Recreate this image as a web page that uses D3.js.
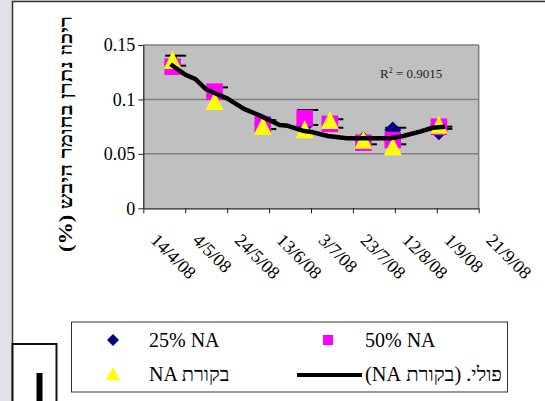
<!DOCTYPE html>
<html>
<head>
<meta charset="utf-8">
<script src="https://cdn.jsdelivr.net/npm/d3@7"></script>
<style>
  body { margin: 0; background: #e4dfe9; }
  svg { display: block; }
</style>
</head>
<body>
<div id="chart"></div>
<script>
// sampling dates (one per measurement)
const sampleDates = ['2008-04-28', '2008-05-18', '2008-06-10', '2008-06-30', '2008-07-12', '2008-07-28', '2008-08-11', '2008-09-02']

// series values
const na25 = [0.132, 0.103, 0.078, 0.076, 0.079, 0.063, 0.0719, 0.0704]
const na50 = [0.130, 0.1071, 0.077, 0.0827, 0.0776, 0.0603, 0.0627, 0.0749]
const control = [0.1358, 0.0981, 0.0753, 0.0722, 0.0807, 0.0626, 0.0566, 0.0763]

// error bar ends
const errHigh = [0.1402, 0.1111, 0.081, 0.0903, 0.0818, 0.064, 0.074, 0.075]
const errLow = [0.131, 0.101, 0.0728, 0.0765, 0.074, 0.0588, 0.0588, 0.073]

// polynomial trendline of control
const trendDates = ['2008-04-27', '2008-05-04', '2008-05-09', '2008-05-14', '2008-05-19', '2008-05-24', '2008-06-01', '2008-06-09', '2008-06-18', '2008-06-22', '2008-06-29', '2008-07-04', '2008-07-11', '2008-07-20', '2008-07-31', '2008-08-10', '2008-08-16', '2008-08-24', '2008-08-30', '2008-09-05']
const trendValues = [0.1323, 0.1228, 0.1185, 0.1093, 0.105, 0.101, 0.0913, 0.0849, 0.0766, 0.0758, 0.0713, 0.0698, 0.0664, 0.0643, 0.0643, 0.0643, 0.0664, 0.0704, 0.074, 0.075]

// axes
const xTickDates = ['2008-04-14', '2008-05-04', '2008-05-24', '2008-06-13', '2008-07-03', '2008-07-23', '2008-08-12', '2008-09-01', '2008-09-21']
const xTickLabels = ['14/4/08', '4/5/08', '24/5/08', '13/6/08', '3/7/08', '23/7/08', '12/8/08', '1/9/08', '21/9/08']
const yTicks = [0, 0.05, 0.1, 0.15]

const legendNames = ['25% NA', '50% NA', 'NA בקורת', 'פולי. (בקורת NA)']
const yTitle = 'ריכוז נתרן בחומר היבש (%)'
const rSquared = '0.9015'

const W = 545
const H = 401
const plot = { left: 143.3, right: 478.7, top: 45, bottom: 208.3 }
const serif = '"Liberation Serif", "Times New Roman", "DejaVu Serif", serif'

const parseDate = d3.timeParse('%Y-%m-%d')

const svg = d3
  .select('#chart')
  .append('svg')
  .attr('width', W)
  .attr('height', H)

// page background + chart frame
svg.append('rect').attr('width', W).attr('height', H).attr('fill', '#e4dfe9')
svg
  .append('rect')
  .attr('x', 12.5)
  .attr('y', 1.5)
  .attr('width', 600)
  .attr('height', 500)
  .attr('fill', '#fff')
  .attr('stroke', '#333')
  .attr('stroke-width', 1.5)

/// Scales////////////////////////////////
const xScale = d3
  .scaleTime()
  .domain([parseDate(xTickDates[0]), parseDate(xTickDates[xTickDates.length - 1])])
  .range([plot.left, plot.right])
const yScale = d3.scaleLinear().domain([0, 0.15]).range([plot.bottom, plot.top])

// plot area
svg
  .append('rect')
  .attr('x', plot.left)
  .attr('y', plot.top)
  .attr('width', plot.right - plot.left)
  .attr('height', plot.bottom - plot.top)
  .attr('fill', '#c0c0c0')

// gridlines
svg
  .append('g')
  .selectAll('line')
  .data(yTicks.filter(d => d > 0))
  .enter()
  .append('line')
  .attr('x1', plot.left)
  .attr('x2', plot.right)
  .attr('y1', d => yScale(d))
  .attr('y2', d => yScale(d))
  .attr('stroke', '#808080')
  .attr('stroke-width', 1.5)

svg
  .append('line')
  .attr('x1', plot.right)
  .attr('x2', plot.right)
  .attr('y1', plot.top)
  .attr('y2', plot.bottom)
  .attr('stroke', '#808080')
  .attr('stroke-width', 1.5)

// axes
const yAxis = svg
  .append('g')
  .attr('transform', 'translate(' + plot.left + ',0)')
  .call(
    d3
      .axisLeft(yScale)
      .tickValues(yTicks)
      .tickFormat(d => String(d))
      .tickSizeInner(5)
      .tickSizeOuter(0)
      .tickPadding(3)
  )
yAxis.select('.domain').attr('stroke', '#222').attr('stroke-width', 1.2)
yAxis.selectAll('.tick line').attr('stroke', '#222')
yAxis
  .selectAll('text')
  .attr('font-family', serif)
  .attr('font-size', 18)
  .attr('fill', '#000')

const xAxis = svg
  .append('g')
  .attr('transform', 'translate(0,' + plot.bottom + ')')
  .call(
    d3
      .axisBottom(xScale)
      .tickValues(xTickDates.map(parseDate))
      .tickFormat((d, i) => xTickLabels[i])
      .tickSizeInner(5)
      .tickSizeOuter(0)
  )
xAxis.select('.domain').attr('stroke', '#222').attr('stroke-width', 1.2)
xAxis.selectAll('.tick line').attr('stroke', '#222')
xAxis
  .selectAll('text')
  .attr('font-family', serif)
  .attr('font-size', 18)
  .attr('fill', '#000')
  .attr('text-anchor', 'start')
  .attr('y', 0)
  .attr('dy', 0)
  .attr('transform', 'translate(6,33) rotate(45)')

/// markers////////////////////////////////
const diamond = 'M0,-8.5L8.5,0L0,8.5L-8.5,0Z'
const square = 'M-8.3,-8.3H8.3V8.3H-8.3Z'
const triangle = 'M0,-9.5L9,8.5H-9Z'

const points = sampleDates.map((d, i) => ({
  date: parseDate(d),
  na25: na25[i],
  na50: na50[i],
  control: control[i],
  hi: errHigh[i],
  lo: errLow[i]
}))

// error bars
const errG = svg.append('g').attr('stroke', '#000').attr('stroke-width', 2)
points.forEach(p => {
  const cx = xScale(p.date) + 3
  errG.append('line').attr('x1', cx).attr('x2', cx).attr('y1', yScale(p.hi)).attr('y2', yScale(p.lo))
  errG.append('line').attr('x1', cx - 10.5).attr('x2', cx + 10.5).attr('y1', yScale(p.hi)).attr('y2', yScale(p.hi))
  errG.append('line').attr('x1', cx - 10.5).attr('x2', cx + 10.5).attr('y1', yScale(p.lo)).attr('y2', yScale(p.lo))
})

const seriesDefs = [
  { key: 'na25', path: diamond, color: '#000080' },
  { key: 'na50', path: square, color: '#ff00ff' },
  { key: 'control', path: triangle, color: '#ffff00' }
]

seriesDefs.forEach(s => {
  svg
    .append('g')
    .selectAll('path')
    .data(points)
    .enter()
    .append('path')
    .attr('d', s.path)
    .attr('transform', d => 'translate(' + xScale(d.date) + ',' + yScale(d[s.key]) + ')')
    .attr('fill', s.color)
})

// trendline
const trend = trendDates.map((d, i) => ({ date: parseDate(d), value: trendValues[i] }))
svg
  .append('path')
  .datum(trend)
  .attr(
    'd',
    d3
      .line()
      .x(d => xScale(d.date))
      .y(d => yScale(d.value))
  )
  .attr('fill', 'none')
  .attr('stroke', '#000')
  .attr('stroke-width', 4.5)
  .attr('stroke-linejoin', 'round')

// R squared label
const rText = svg
  .append('text')
  .attr('x', 380)
  .attr('y', 78)
  .attr('font-family', serif)
  .attr('font-size', 13)
  .attr('fill', '#222')
rText.append('tspan').text('R')
rText.append('tspan').attr('font-size', 8).attr('dy', -5).text('2')
rText.append('tspan').attr('dy', 5).text(' = ' + rSquared)

// y title
svg
  .append('text')
  .attr('transform', 'translate(72,134) rotate(-90)')
  .attr('direction', 'rtl')
  .attr('text-anchor', 'middle')
  .attr('font-family', serif)
  .attr('font-weight', 'bold')
  .attr('font-size', 18)
  .attr('textLength', 236)
  .attr('lengthAdjust', 'spacingAndGlyphs')
  .text(yTitle)

/// legend////////////////////////////////
svg
  .append('rect')
  .attr('x', 71.5)
  .attr('y', 322)
  .attr('width', 436)
  .attr('height', 70)
  .attr('fill', '#fff')
  .attr('stroke', '#333')
  .attr('stroke-width', 1)

const leg = svg.append('g').attr('font-family', serif).attr('font-size', 20)

leg.append('path').attr('d', 'M0,-6L6,0L0,6L-6,0Z').attr('transform', 'translate(113,340)').attr('fill', '#000080')
leg.append('text').attr('x', 149).attr('y', 347).text(legendNames[0])

leg.append('path').attr('d', 'M-5,-5H5V5H-5Z').attr('transform', 'translate(328,340)').attr('fill', '#ff00ff')
leg.append('text').attr('x', 365).attr('y', 347).text(legendNames[1])

leg.append('path').attr('d', 'M0,-7L7,6H-7Z').attr('transform', 'translate(113,374)').attr('fill', '#ffff00')
leg.append('text').attr('x', 149).attr('y', 381).text(legendNames[2])

leg
  .append('line')
  .attr('x1', 297)
  .attr('x2', 362)
  .attr('y1', 375)
  .attr('y2', 375)
  .attr('stroke', '#000')
  .attr('stroke-width', 4)
leg
  .append('text')
  .attr('x', 502)
  .attr('y', 381)
  .attr('direction', 'rtl')
  .attr('text-anchor', 'start')
  .attr('textLength', 137)
  .attr('lengthAdjust', 'spacingAndGlyphs')
  .text(legendNames[3])

// the edge of a second frame showing at lower left
svg
  .append('rect')
  .attr('x', 12.5)
  .attr('y', 344)
  .attr('width', 44)
  .attr('height', 80)
  .attr('fill', '#fff')
  .attr('stroke', '#111')
  .attr('stroke-width', 2)
svg
  .append('rect')
  .attr('x', 36.5)
  .attr('y', 373)
  .attr('width', 6)
  .attr('height', 40)
  .attr('fill', '#000')
</script>
</body>
</html>
